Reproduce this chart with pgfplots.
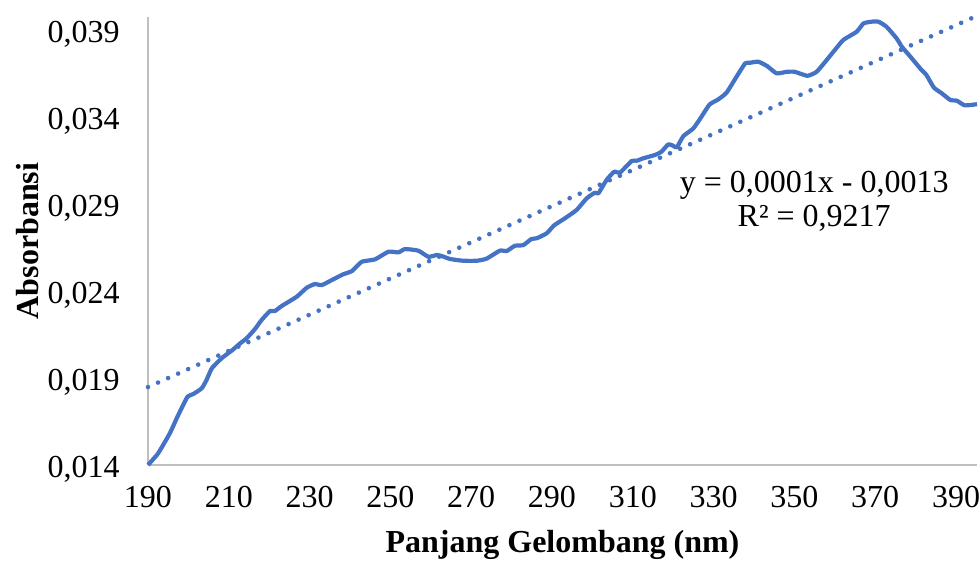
\documentclass[border=0pt]{standalone}
\usepackage{pgfplots}
\pgfplotsset{compat=1.18}
\usepackage{fontspec}
\setmainfont{Liberation Serif}
\definecolor{exblue}{HTML}{4472C4}
\definecolor{axgray}{HTML}{BFBFBF}
\begin{document}
\begin{tikzpicture}
\useasboundingbox (-74pt,-49pt) rectangle (415.5pt,232.5pt);
\begin{axis}[
  at={(0,0)}, anchor=south west,
  scale only axis,
  width=414.5pt, height=224pt,
  xmin=190, xmax=395.2,
  ymin=0.014, ymax=0.03975,
  scaled y ticks=false, scaled x ticks=false,
  axis lines=left,
  axis line style={draw=axgray, line width=1pt, -},
  xtick={190,210,230,250,270,290,310,330,350,370,390},
  xticklabels={190,210,230,250,270,290,310,330,350,370,390},
  ytick={0.014,0.019,0.024,0.029,0.034,0.039},
  yticklabels={{0,014},{0,019},{0,024},{0,029},{0,034},{0,039}},
  major tick length=0pt,
  tick style={draw=none},
  every tick label/.style={font=\fontsize{16}{19}\selectfont, inner sep=0pt},
  xticklabel style={anchor=center, yshift=-16pt},
  yticklabel style={anchor=east, xshift=-14pt, yshift=-2pt},
  xlabel={Panjang Gelombang (nm)},
  ylabel={Absorbansi},
  label style={font=\fontsize{16}{19}\selectfont\bfseries},
  xlabel style={at={(axis description cs:0.5,0)}, anchor=center, yshift=-40pt},
  ylabel style={at={(axis description cs:0,0.5)}, anchor=center, yshift=60pt},
  clip=false,
]
\addplot[exblue, line width=2.1pt, line join=round, smooth, tension=0.3] coordinates {
(190,0.01400) (192.5,0.01467) (195.4,0.01582) (197.1,0.01668) (198.3,0.01726)
(199.8,0.01793) (201.2,0.01808) (203.3,0.01841) (204.5,0.01889) (205.8,0.01956)
(208.2,0.02013) (210.7,0.02057) (212.8,0.02099) (214.4,0.02128) (216.5,0.02182)
(218.1,0.02233) (220.2,0.02285) (221.4,0.02285) (223.1,0.02314) (226.8,0.02367)
(229.3,0.02419) (231.3,0.02440) (233.0,0.02434) (235.5,0.02463) (238.3,0.02496)
(240.5,0.02515) (242.9,0.02568) (246.2,0.02582) (249.5,0.02626) (252.0,0.02622)
(253.6,0.02641) (256.9,0.02632) (259.4,0.02597) (261.5,0.02607) (262.7,0.02601)
(264.8,0.02584) (268.0,0.02574) (271.4,0.02574) (273.8,0.02586) (277.1,0.02632)
(278.8,0.02630) (280.8,0.02660) (282.9,0.02664) (284.9,0.02699) (286.2,0.02703)
(288.7,0.02732) (290.5,0.02777) (293.2,0.02818) (296.1,0.02866) (298.6,0.02933)
(300.6,0.02965) (301.5,0.02962) (303.5,0.03038) (305.4,0.03086) (306.8,0.03080)
(309.7,0.03147) (311.0,0.03149) (312.6,0.03163) (315.5,0.03182) (317.1,0.03201)
(318.8,0.03243) (320.0,0.03235) (320.9,0.03226) (322.5,0.03290) (325.0,0.03335)
(327.0,0.03402) (329.0,0.03472) (331.2,0.03502) (333.2,0.03540) (335.5,0.03625)
(337.8,0.03708) (339.0,0.03712) (341.1,0.03718) (343.3,0.03692) (345.6,0.03651)
(348.1,0.03660) (350.1,0.03660) (353.2,0.03637) (355.5,0.03660) (358.0,0.03728)
(360.0,0.03785) (362.1,0.03843) (365.4,0.03890) (367.1,0.03938) (369.1,0.03948)
(370.8,0.03948) (372.8,0.03919) (375.3,0.03852) (376.6,0.03804) (378.6,0.03750)
(381.3,0.03675) (382.7,0.03641) (384.5,0.03570) (386.5,0.03536) (388.6,0.03498)
(390.2,0.03494) (392.2,0.03467) (395.2,0.03474)
};
\addplot[exblue, line width=2.3pt, line cap=round, dash pattern=on 0pt off 5.5pt] coordinates {
(190,0.01848) (395,0.0398)
};
\node[align=center, font=\fontsize{16}{17}\selectfont, inner sep=0pt] at (axis cs:354.9,0.02917)
  {y = 0,0001x - 0,0013\\R² = 0,9217};
\end{axis}
\end{tikzpicture}
\end{document}
